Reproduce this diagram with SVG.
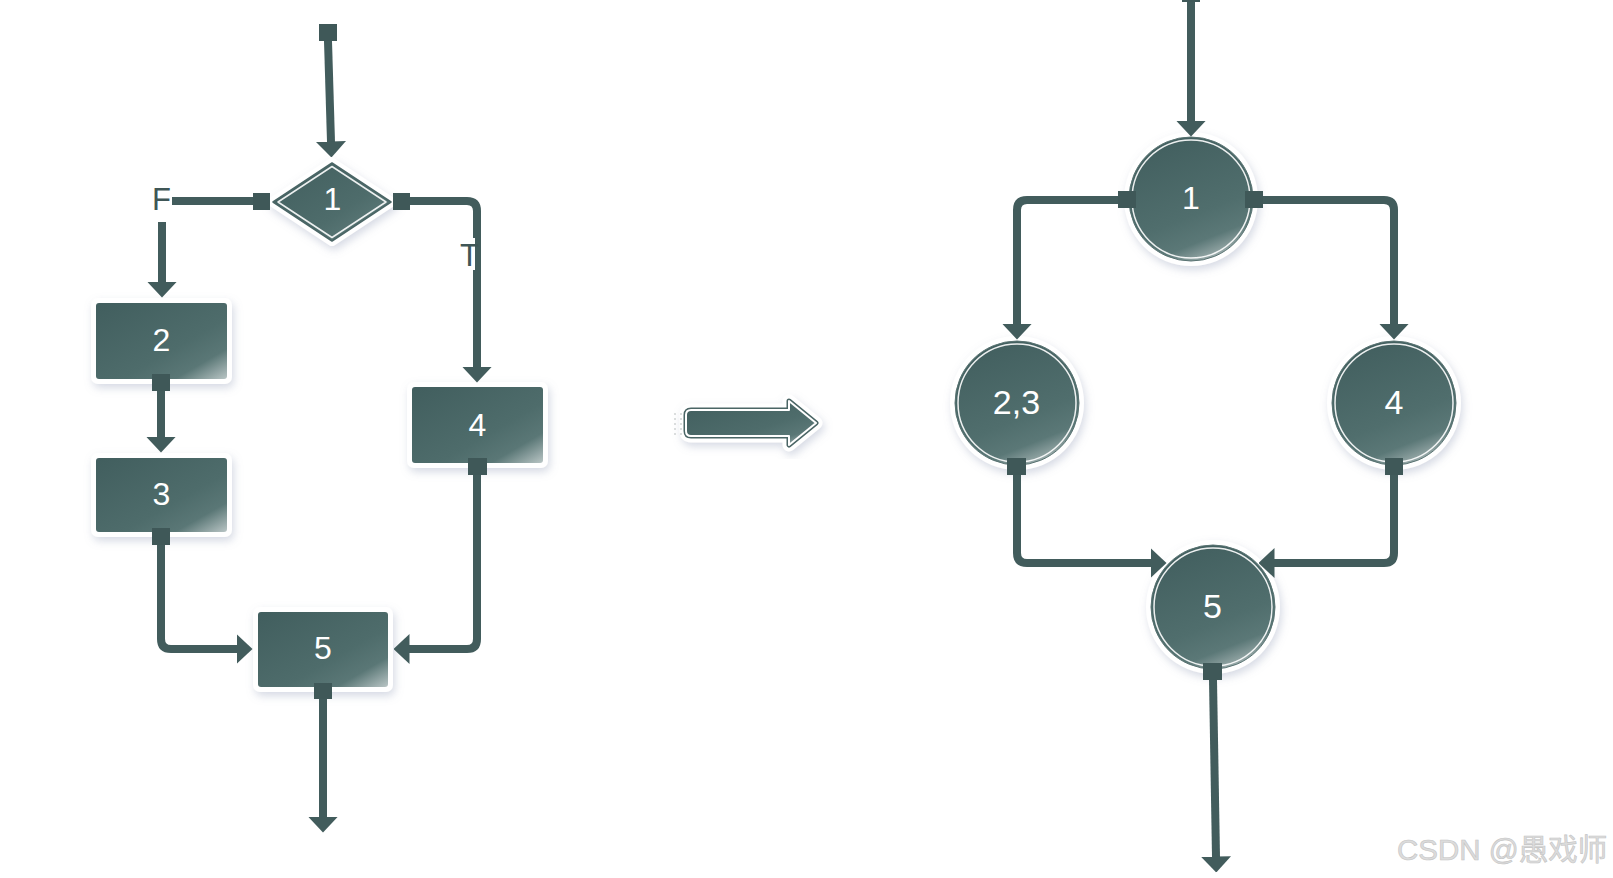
<svg xmlns="http://www.w3.org/2000/svg" width="1613" height="878" viewBox="0 0 1613 878">
<style>
.halo{fill:#ffffff;filter:url(#sh)}
.body{stroke:none}
.lbl{font-family:"Liberation Sans",Arial,sans-serif;font-size:32px;fill:#ffffff;text-anchor:middle}
.clbl{font-size:34px}
.edge{fill:none;stroke:#425c5c;stroke-width:8;stroke-linejoin:round;marker-end:url(#ah)}
.sq{fill:#3f5858}
.tag{font-family:"Liberation Sans",Arial,sans-serif;font-size:31px;fill:#3f5656}
.inner{fill:none;stroke:#ffffff;stroke-width:1.5;opacity:0.9}
</style>
<defs>
<filter id="sh" x="-30%" y="-30%" width="160%" height="160%">
<feDropShadow dx="2" dy="4" stdDeviation="4" flood-color="#8b95b3" flood-opacity="0.35"/>
</filter>
<linearGradient id="gr" x1="0" y1="0" x2="1" y2="1">
<stop offset="0" stop-color="#415e5e"/>
<stop offset="0.6" stop-color="#4e6c6b"/>
<stop offset="0.8" stop-color="#5a7776"/>
<stop offset="1" stop-color="#b9c5c5"/>
</linearGradient>
<linearGradient id="gc" x1="0.3" y1="0" x2="0.7" y2="1">
<stop offset="0" stop-color="#425f5f"/>
<stop offset="0.62" stop-color="#506e6d"/>
<stop offset="0.82" stop-color="#5b7877"/>
<stop offset="1" stop-color="#a9b7b7"/>
</linearGradient>
<marker id="ah" viewBox="0 0 16 30" markerWidth="16" markerHeight="30" refX="0.5" refY="15" orient="auto" markerUnits="userSpaceOnUse">
<path d="M0,0 L16,15 L0,30 Z" fill="#425c5c"/>
</marker>
</defs>
<rect width="1613" height="878" fill="#ffffff"/>

<g id="node-d1">
<polygon points="273,202 332,163 391,202 332,241" fill="#ffffff" stroke="#ffffff" stroke-width="10" stroke-linejoin="round" filter="url(#sh)"/>
<polygon points="273,202 332,163 391,202 332,241" fill="url(#gr)" stroke="#4a6565" stroke-width="1.5" stroke-linejoin="round"/>
<polygon points="278,202 332,166.5 386,202 332,237.5" class="inner" stroke-linejoin="round"/>
<text class="lbl" x="332.5" y="210" font-size="28">1</text>
</g>
<g id="node-b2">
<rect class="halo" x="91" y="298" width="141" height="86" rx="7"/>
<rect class="body" x="96" y="303" width="131" height="76" rx="3" fill="url(#gr)"/>
<text class="lbl" x="161.5" y="351">2</text>
</g>
<g id="node-b3">
<rect class="halo" x="91" y="453" width="141" height="84" rx="7"/>
<rect class="body" x="96" y="458" width="131" height="74" rx="3" fill="url(#gr)"/>
<text class="lbl" x="161.5" y="505">3</text>
</g>
<g id="node-b4">
<rect class="halo" x="407" y="382" width="141" height="86" rx="7"/>
<rect class="body" x="412" y="387" width="131" height="76" rx="3" fill="url(#gr)"/>
<text class="lbl" x="477.5" y="436">4</text>
</g>
<g id="node-b5">
<rect class="halo" x="253" y="607" width="140" height="85" rx="7"/>
<rect class="body" x="258" y="612" width="130" height="75" rx="3" fill="url(#gr)"/>
<text class="lbl" x="323" y="659">5</text>
</g>

<g id="big-arrow">
<path d="M691,410 L789,410 L789,401 L816,423 L789,445 L789,436 L691,436 Q686,436 686,431 L686,415 Q686,410 691,410 Z" fill="#ffffff" stroke="#ffffff" stroke-width="13" stroke-linejoin="round" filter="url(#sh)"/>
<path d="M691,410 L789,410 L789,401 L816,423 L789,445 L789,436 L691,436 Q686,436 686,431 L686,415 Q686,410 691,410 Z" fill="#4a6867" stroke="#4a6565" stroke-width="5" stroke-linejoin="round"/>
<path d="M691,410 L789,410 L789,401 L816,423 L789,445 L789,436 L691,436 Q686,436 686,431 L686,415 Q686,410 691,410 Z" fill="url(#gr)" stroke="#ffffff" stroke-width="2" stroke-linejoin="round"/>
<line x1="675" y1="413" x2="675" y2="436" stroke="#c3c9c9" stroke-width="1.2" stroke-dasharray="2,3"/>
<line x1="681" y1="413" x2="681" y2="436" stroke="#c3c9c9" stroke-width="1.2" stroke-dasharray="2,3"/>
</g>

<g id="node-c1">
<circle class="halo" cx="1191" cy="199" r="67"/>
<circle cx="1191" cy="199" r="62" fill="url(#gc)" stroke="#587271" stroke-width="1"/>
<circle class="inner" cx="1191" cy="199" r="59"/>
<text class="lbl" x="1191" y="209" font-family="DejaVu Sans, sans-serif" font-size="31">1</text>
</g>
<g id="node-c23">
<circle class="halo" cx="1017" cy="403" r="67"/>
<circle cx="1017" cy="403" r="62" fill="url(#gc)" stroke="#587271" stroke-width="1"/>
<circle class="inner" cx="1017" cy="403" r="59"/>
<text class="lbl clbl" x="1016.5" y="414">2,3</text>
</g>
<g id="node-c4">
<circle class="halo" cx="1394" cy="403" r="67"/>
<circle cx="1394" cy="403" r="62" fill="url(#gc)" stroke="#587271" stroke-width="1"/>
<circle class="inner" cx="1394" cy="403" r="59"/>
<text class="lbl clbl" x="1394" y="414">4</text>
</g>
<g id="node-c5">
<circle class="halo" cx="1213" cy="607" r="67"/>
<circle cx="1213" cy="607" r="62" fill="url(#gc)" stroke="#587271" stroke-width="1"/>
<circle class="inner" cx="1213" cy="607" r="59"/>
<text class="lbl clbl" x="1212.5" y="618">5</text>
</g>

<g id="connectors">
<path class="edge" d="M328,41 L331,142"/>
<rect class="sq" x="319" y="24" width="18" height="17"/>
<path class="edge" d="M253,201 L172,201 Q162,201 162,211 L162,282"/>
<rect class="sq" x="253" y="193" width="17" height="17"/>
<path class="edge" d="M410,201 L467,201 Q477,201 477,211 L477,367"/>
<rect class="sq" x="393" y="193" width="17" height="17"/>
<path class="edge" d="M161,391 L161,437"/>
<rect class="sq" x="152" y="374" width="18" height="17"/>
<path class="edge" d="M161,545 L161,639 Q161,649 171,649 L237,649"/>
<rect class="sq" x="152" y="528" width="18" height="17"/>
<path class="edge" d="M477,475 L477,639 Q477,649 467,649 L409,649"/>
<rect class="sq" x="468" y="458" width="19" height="17"/>
<path class="edge" d="M323,699 L323,817"/>
<rect class="sq" x="314" y="683" width="18" height="16"/>

<path class="edge" d="M1191,0 L1191,121"/>
<rect class="sq" x="1182" y="-14" width="18" height="16"/>
<path class="edge" d="M1118,200 L1027,200 Q1017,200 1017,210 L1017,324"/>
<rect class="sq" x="1118" y="191" width="18" height="17"/>
<path class="edge" d="M1263,200 L1384,200 Q1394,200 1394,210 L1394,324"/>
<rect class="sq" x="1245" y="191" width="18" height="17"/>
<path class="edge" d="M1017,475 L1017,553 Q1017,563 1027,563 L1151,563"/>
<rect class="sq" x="1007" y="458" width="19" height="17"/>
<path class="edge" d="M1394,475 L1394,553 Q1394,563 1384,563 L1274,563"/>
<rect class="sq" x="1385" y="458" width="18" height="17"/>
<path class="edge" d="M1213,680 L1216,857"/>
<rect class="sq" x="1203" y="663" width="19" height="17"/>

<rect x="146" y="176" width="26" height="46" fill="#ffffff"/>
<text class="tag" x="152" y="210">F</text>
<rect x="457" y="238" width="18" height="32" fill="#ffffff"/>
<text class="tag" x="460" y="266">T</text>
</g>

<text x="1397" y="860" font-family="Liberation Sans, Noto Sans CJK SC, sans-serif" font-size="29.5" fill="#dcdcdc" stroke="#c4c4c4" stroke-width="0.6">CSDN @愚戏师</text>
</svg>
